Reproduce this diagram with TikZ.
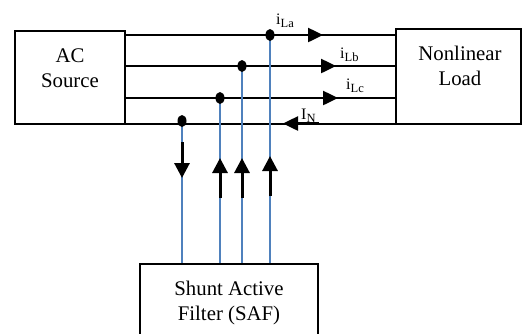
\documentclass[tikz,border=0pt]{standalone}
\usepackage{fontspec}
\setmainfont{Liberation Serif}
\usetikzlibrary{arrows.meta,shapes.geometric}
\definecolor{wireblue}{RGB}{79,129,189}
\newcommand\subtxt[1]{\raisebox{-3pt}{\fontsize{12.5}{12.5}\selectfont #1}}
\begin{document}
\begin{tikzpicture}[x=1pt,y=-1pt,
  box/.style={draw=black,line width=1.6pt,rectangle,inner sep=0pt},
  boxtext/.style={font=\fontsize{20.8}{25}\selectfont,align=center,anchor=base,inner sep=0pt},
  wire/.style={line width=2pt,black},
  tap/.style={line width=2pt,wireblue},
  dotnode/.style={ellipse,fill=black,inner sep=0pt,minimum width=9pt,minimum height=12pt},
  harrow/.style={line width=2.5pt,-{Triangle[length=15pt,width=14pt]}},
  varrow/.style={line width=3pt,-{Triangle[length=15pt,width=15pt]}},
  lbl/.style={font=\fontsize{16}{16}\selectfont,anchor=base west,inner sep=0pt}]
\useasboundingbox (0,0) rectangle (522,333);
% boxes
\node (src) [box,minimum width=110pt,minimum height=93pt] at (70,77.5) {};
\node (load) [box,minimum width=125pt,minimum height=95pt] at (458.5,76.5) {};
\node (saf) [box,minimum width=178pt,minimum height=81pt] at (229,304.5) {};
\node (srctxt) [boxtext] at (70,87) {AC\\Source};
\node (loadtxt) [boxtext] at (460,85) {Nonlinear\\Load};
\node (saftxt) [boxtext] at (229,320) {Shunt Active\\Filter (SAF)};
% wire levels
\coordinate (ya) at (0,35);
\coordinate (yb) at (0,66);
\coordinate (yc) at (0,98);
\coordinate (yn) at (0,123.5);
\draw[wire] (src.east |- ya) -- (load.west |- ya);
\draw[wire] (src.east |- yb) -- (load.west |- yb);
\draw[wire] (src.east |- yc) -- (load.west |- yc);
\draw[wire] (src.east |- yn) -- (load.west |- yn);
% tap points
\coordinate (ta) at (270,35);
\coordinate (tb) at (242,66);
\coordinate (tc) at (220,98);
\coordinate (tn) at (182,121);
\draw[tap] (ta) -- (ta |- saf.north);
\draw[tap] (tb) -- (tb |- saf.north);
\draw[tap] (tc) -- (tc |- saf.north);
\draw[tap] (tn) -- (tn |- saf.north);
\node (da) [dotnode] at (ta) {};
\node (db) [dotnode] at (tb) {};
\node (dc) [dotnode] at (tc) {};
\node (dn) [dotnode] at (tn) {};
% line current arrows
\coordinate (aa1) at (283,35);  \coordinate (aa2) at (323,35);
\coordinate (ab1) at (284,66);  \coordinate (ab2) at (336,66);
\coordinate (ac1) at (298,98);  \coordinate (ac2) at (338,98);
\coordinate (an1) at (319,123.5); \coordinate (an2) at (283,123.5);
\draw[harrow] (aa1) -- (aa2);
\draw[harrow] (ab1) -- (ab2);
\draw[harrow] (ac1) -- (ac2);
\draw[harrow] (an1) -- (an2);
% filter current arrows
\coordinate (vn1) at (182,142);   \coordinate (vn2) at (182,178);
\coordinate (vc1) at (220,198); \coordinate (vc2) at (220,158);
\coordinate (vb1) at (242,198);   \coordinate (vb2) at (242,158);
\coordinate (va1) at (270,196); \coordinate (va2) at (270,156);
\draw[varrow] (vn1) -- (vn2);
\draw[varrow] (vc1) -- (vc2);
\draw[varrow] (vb1) -- (vb2);
\draw[varrow] (va1) -- (va2);
% labels
\node (lla) [lbl] at (276,24) {i\subtxt{La}};
\node (llb) [lbl] at (340,58) {i\subtxt{Lb}};
\node (llc) [lbl] at (346,89) {i\subtxt{Lc}};
\node (lln) [lbl] at (301,119) {I\subtxt{N}};
\end{tikzpicture}
\end{document}
